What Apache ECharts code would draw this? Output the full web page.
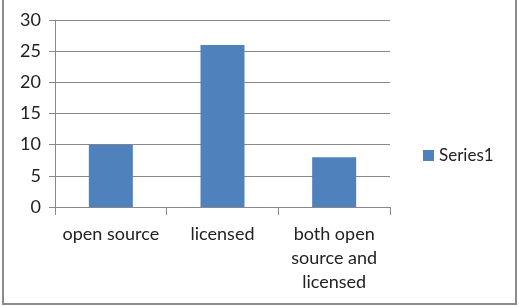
<!DOCTYPE html>
<html lang="en" style="height: 100%">
<head>
  <meta charset="utf-8">
</head>
<body style="height: 100%; margin: 0; position: relative">
  <div id="container" style="height: 100%"></div>
  <div style="position: absolute; left: 2px; top: -2px; width: 511px; height: 305px; border: 2px solid #8c8c8c; border-top: none; pointer-events: none"></div>

  <script type="text/javascript" src="https://fastly.jsdelivr.net/npm/echarts@6/dist/echarts.min.js"></script>
  <script type="text/javascript">
    var categories = ['open source', 'licensed', 'both open\nsource and\nlicensed'];
    var series1 = [10, 26, 8];
    var yTicks = { min: 0, max: 30, interval: 5 };

    var dom = document.getElementById('container');
    var myChart = echarts.init(dom, null, { renderer: 'canvas' });

    var font = 'Lato';
    var option = {
      animation: false,
      legend: {
        orient: 'vertical',
        left: 418,
        top: 142,
        itemWidth: 11,
        itemHeight: 11,
        itemGap: 4,
        icon: 'rect',
        textStyle: { fontFamily: font, fontSize: 17, color: '#222' },
        data: ['Series1']
      },
      grid: { left: 55, right: 129, top: 20, bottom: 99 },
      xAxis: {
        type: 'category',
        data: categories,
        axisLine: { lineStyle: { color: '#888' } },
        axisTick: { show: true, length: 8, lineStyle: { color: '#888' } },
        axisLabel: {
          interval: 0,
          margin: 15,
          fontFamily: font,
          fontSize: 18,
          lineHeight: 24,
          color: '#222'
        }
      },
      yAxis: {
        type: 'value',
        min: yTicks.min,
        max: yTicks.max,
        interval: yTicks.interval,
        axisLine: { show: true, lineStyle: { color: '#888' } },
        axisTick: { show: true, length: 6, lineStyle: { color: '#888' } },
        splitLine: { lineStyle: { color: '#888' } },
        axisLabel: { margin: 14, fontFamily: font, fontSize: 18, color: '#222' }
      },
      series: [
        {
          name: 'Series1',
          type: 'bar',
          data: series1,
          barWidth: 44,
          itemStyle: { color: '#4f81bd' }
        }
      ]
    };

    myChart.setOption(option);
    window.addEventListener('resize', myChart.resize);
  </script>
</body>
</html>
